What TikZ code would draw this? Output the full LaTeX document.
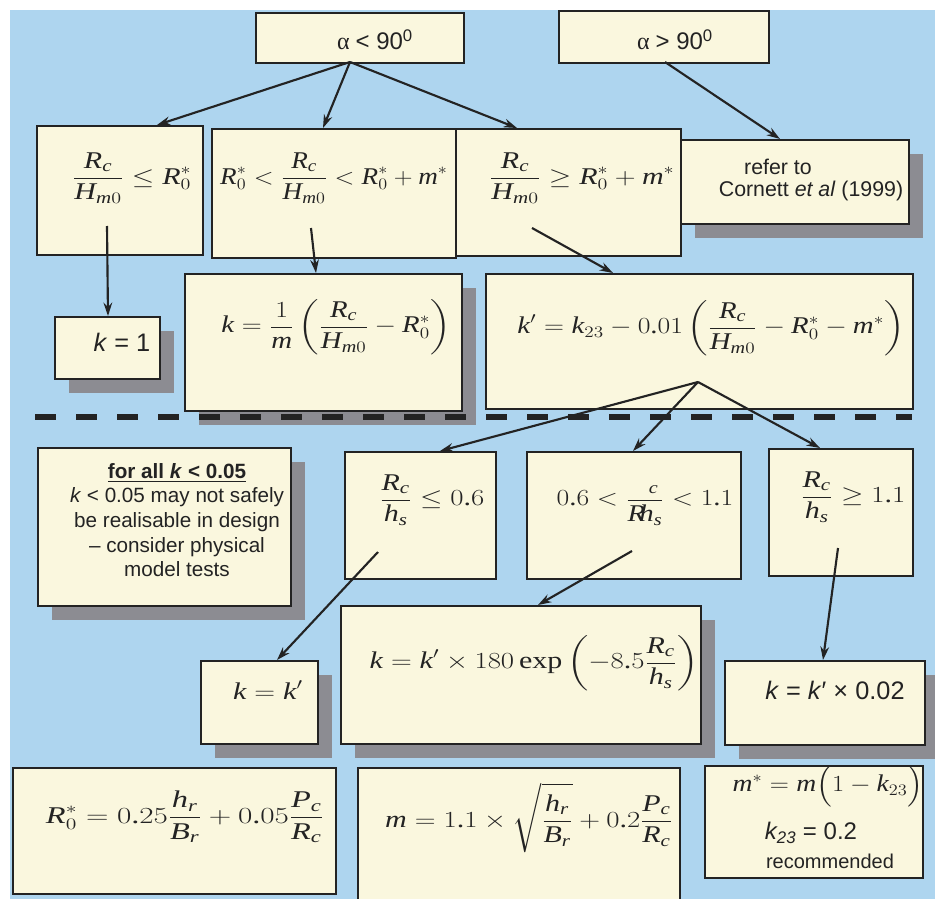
\documentclass[tikz,border=0pt]{standalone}
\usepackage{amsmath}
\usepackage{fontspec}
\setmainfont{Liberation Serif}
\newfontfamily\sfa{Liberation Sans}
\newcommand\mkact[2]{\begingroup\lccode`~=`#1\lowercase{\endgroup\def~}{#2}\mathcode`#1="8000\relax}
\newcommand\mkit[1]{\mkact{#1}{\text{\itshape #1}}}
\newcommand\mkup[1]{\mkact{#1}{\text{\upshape #1}}}
\mkit R \mkit H \mkit m \mkit k \mkit h \mkit s \mkit c \mkit r \mkit B \mkit P
\mkup 0 \mkup 1 \mkup 2 \mkup 3 \mkup 5 \mkup 6 \mkup 8 \mkup 9 \mkup .
\usepackage{graphicx}
\usetikzlibrary{arrows.meta,shadows}
\definecolor{bg}{RGB}{174,213,239}
\definecolor{cream}{RGB}{250,247,222}
\definecolor{shd}{RGB}{140,140,146}
\definecolor{ink}{RGB}{35,35,35}
\newcommand\mybox[6]{\node[#1,minimum width=#5*0.75pt,minimum height=#6*0.75pt] (#2) at (#3,#4) {};}
\newcommand\fx[2]{\scalebox{#1}[1]{$\displaystyle #2$}}
\begin{document}
\begin{tikzpicture}[x=0.75pt,y=-0.75pt,
  box/.style={draw=ink,line width=1.5pt,fill=cream,anchor=north west,inner sep=0pt},
  sbox/.style={box,drop shadow={shadow xshift=10.5pt,shadow yshift=-10.5pt,fill=shd,opacity=1}},
  arr/.style={draw=ink,line width=1.6pt,-{Stealth[length=10pt,width=6.5pt]}},
  dashline/.style={draw=ink,line width=4.8pt,dash pattern=on 15.75pt off 15pt},
  txt/.style={inner sep=0pt,align=center,text=ink,font=\fontsize{18}{22}\selectfont},
  stxt/.style={txt,font=\sfa\fontsize{19}{22}\selectfont}]
\fill[white] (0,0) rectangle (935,899);
\useasboundingbox (0,0) rectangle (935,899);
\fill[bg] (10,10) rectangle (935,899);
% boxes
\mybox{box}{b1}{255}{12}{208}{50}
\mybox{box}{b2}{558}{10}{210}{52}
\mybox{box}{b3}{36}{125}{166}{129}
\mybox{box}{b4}{211}{128}{244}{129}
\mybox{box}{b5}{455}{128}{225}{127}
\mybox{sbox}{b6}{680}{139}{228}{84}
\mybox{sbox}{b7}{54}{316}{105}{62}
\mybox{sbox}{b8}{184}{273}{277}{137}
\mybox{box}{b9}{485}{273}{427}{135}
\mybox{sbox}{b11}{37}{447}{253}{158}
\mybox{box}{b12}{344}{451}{151}{127}
\mybox{box}{b13}{526}{451}{214}{127}
\mybox{box}{b14}{768}{448}{144}{127}
\mybox{sbox}{b15}{200}{660}{117}{83}
\mybox{sbox}{b16}{340}{605}{360}{138}
\mybox{sbox}{b17}{724}{660}{200}{84}
\mybox{box}{b18}{12}{767}{323}{126}
\mybox{box}{b19}{357}{767}{322}{145}
\mybox{box}{b20}{704}{765}{218}{112}
% connector points
\coordinate (o1) at (350,62);
\coordinate (o2) at (665,62);
\coordinate (o3) at (107,226);
\coordinate (o4) at (311,228);
\coordinate (o5) at (532,228);
\coordinate (o9) at (698,382);
\coordinate (o12) at (378,552);
\coordinate (o13) at (632,551);
\coordinate (o14) at (838,548);
\coordinate (e3) at (157,125);
\coordinate (e4) at (323,128);
\coordinate (e5) at (517,128);
\coordinate (e6) at (780,139);
\coordinate (e7) at (108,316);
\coordinate (e8) at (316,273);
\coordinate (e9) at (613,273);
\coordinate (e12) at (440,451);
\coordinate (e13) at (633,451);
\coordinate (e14) at (820,448);
\coordinate (e15) at (277,660);
\coordinate (e16) at (538,605);
\coordinate (e17) at (823,660);
\draw[arr] (o1) -- (e3);
\draw[arr] (o1) -- (e4);
\draw[arr] (o1) -- (e5);
\draw[arr] (o2) -- (e6);
\draw[arr] (o3) -- (e7);
\draw[arr] (o4) -- (e8);
\draw[arr] (o5) -- (e9);
\draw[arr] (o9) -- (e12);
\draw[arr] (o9) -- (e13);
\draw[arr] (o9) -- (e14);
\draw[arr] (o12) -- (e15);
\draw[arr] (o13) -- (e16);
\draw[arr] (o14) -- (e17);
% dashed separator
\coordinate (d1) at (35,417);
\coordinate (d2) at (912,417);
\draw[dashline] (d1) -- (d2);
% texts
\node[txt] (t1) at (375,40) {α {\sfa < 90\textsuperscript{0}}};
\node[txt] (t2) at (675,40) {α {\sfa > 90\textsuperscript{0}}};
\node[txt] (t3) at (132,178) {\fx{1.25}{\frac{R_c}{H_{m0}} \le R_0^*}};
\node[txt] (t4) at (334,178) {\fx{1.13}{R_0^* < \frac{R_c}{H_{m0}} < R_0^* + m^*}};
\node[txt] (t5) at (582,178) {\fx{1.25}{\frac{R_c}{H_{m0}} \ge R_0^* + m^*}};
\node[stxt,font=\sfa\fontsize{16}{19}\selectfont] (t6a) at (778,167) {refer to};
\node[stxt,font=\sfa\fontsize{16}{19}\selectfont] (t6b) at (811,191) {Cornett \textit{et al} (1999)};
\node[stxt] (t7) at (122,342) {\textit{k} = 1};
\node[txt] (t8) at (336,327) {\fx{1.2}{k = \frac{1}{m}\left(\frac{R_c}{H_{m0}} - R_0^*\right)}};
\node[txt] (t9) at (711,328) {\fx{1.2}{k' = k_{23} - 0.01\left(\frac{R_c}{H_{m0}} - R_0^* - m^*\right)}};
\node[stxt,font=\sfa\fontsize{15.5}{18.5}\selectfont] (t11) at (177,520) {\underline{\textbf{for all \textit{k} < 0.05}}\\\textit{k} < 0.05 may not safely\\be realisable in design\\– consider physical\\model tests};
\node[txt] (t12) at (432,500) {\fx{1.25}{\frac{R_c}{h_s} \le 0.6}};
\node[txt] (t13) at (645,500) {\fx{1.2}{0.6 < \frac{\phantom{R}_c}{R\kern-0.2em h_s} < 1.1}};
\node[txt] (t14) at (853,497) {\fx{1.25}{\frac{R_c}{h_s} \ge 1.1}};
\node[txt] (t15) at (268,690) {\fx{1.25}{k = k'}};
\node[txt] (t16) at (534,663) {\fx{1.25}{k = k' \times 180\,\text{exp}\left(-8.5\frac{R_c}{h_s}\right)}};
\node[stxt] (t17) at (835,690) {\textit{k} = \textit{k}′ × 0.02};
\node[txt] (t18) at (185,817) {\fx{1.35}{R_0^* = 0.25\frac{h_r}{B_r} + 0.05\frac{P_c}{R_c}}};
\node[txt] (t19) at (529,818) {\fx{1.25}{m = 1.1\times\sqrt{\frac{h_r}{B_r}} + 0.2\frac{P_c}{R_c}}};
\node[txt] (t20a) at (828,786) {\fx{1.15}{m^* = m\Bigl(1 - k_{23}\Bigr)}};
\node[stxt,font=\sfa\fontsize{18}{21}\selectfont] (t20b) at (811,833) {\textit{k\textsubscript{23}} = 0.2};
\node[stxt,font=\sfa\fontsize{15}{18}\selectfont] (t20c) at (830,861) {recommended};
\end{tikzpicture}
\end{document}
